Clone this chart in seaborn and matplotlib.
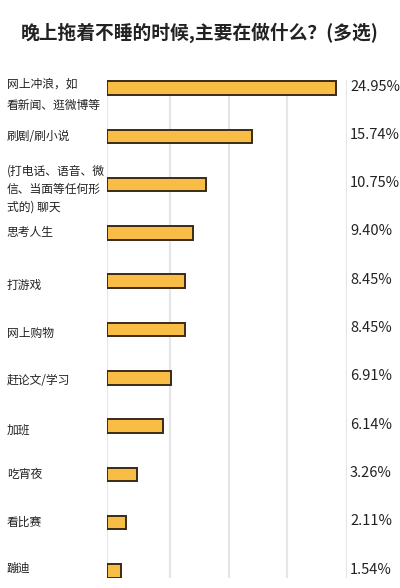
import matplotlib
matplotlib.use("Agg")
import matplotlib.pyplot as plt
import matplotlib.transforms as mtransforms
import seaborn as sns
import pandas as pd

activities = [
    "网上冲浪，如\n看新闻、逛微博等",
    "刷剧/刷小说",
    "(打电话、语音、微\n信、当面等任何形\n式的) 聊天",
    "思考人生",
    "打游戏",
    "网上购物",
    "赶论文/学习",
    "加班",
    "吃宵夜",
    "看比赛",
    "蹦迪",
]
shares = [24.95, 15.74, 10.75, 9.40, 8.45, 8.45, 6.91, 6.14, 3.26, 2.11, 1.54]
share_labels = ["24.95%", "15.74%", "10.75%", "9.40%", "8.45%", "8.45%",
                "6.91%", "6.14%", "3.26%", "2.11%", "1.54%"]
grid_ticks = [0, 6.85, 13.3, 19.6, 26.1]

df = pd.DataFrame({"activity": activities, "share": shares})

sns.set_style("white")
plt.rcParams["font.family"] = ["Noto Sans CJK SC", "DejaVu Sans"]

fig = plt.figure(figsize=(4.0, 5.88), dpi=100)
ax = fig.add_axes([0.2675, 0.017, 0.6, 0.847])

sns.barplot(data=df, x="share", y="activity", orient="h", color="#f7bd45",
            edgecolor="#3b2a18", linewidth=1.4, width=0.28, saturation=1, ax=ax)

ax.set_xlim(0, grid_ticks[-1])
ax.set_ylim(10.145, -0.166)
ax.set_xticks(grid_ticks)
ax.xaxis.grid(True, color="#e6e6e8", linewidth=1.6)
ax.set_axisbelow(True)
ax.tick_params(axis="x", length=0, labelbottom=False)
ax.tick_params(axis="y", length=0, labelleft=False)
ax.set_xlabel("")
ax.set_ylabel("")
for s in ax.spines.values():
    s.set_visible(False)

# labels on the left, value text on the right
trans = mtransforms.blended_transform_factory(fig.transFigure, ax.transData)
offsets = [0, 0, 0.1, 0, 0.08, 0.08, 0.06, 0.08, 0, 0, -0.06]
for i, (name, lab) in enumerate(zip(activities, share_labels)):
    if i == 0:
        ax.text(0.017, i - 0.22, name, transform=trans, ha="left", va="top",
                fontsize=8.5, color="#222222", linespacing=1.85)
    else:
        ax.text(0.017, i + offsets[i], name, transform=trans, ha="left",
                va="center", fontsize=8.5, color="#222222", linespacing=1.5)
    ax.text(0.875, i - 0.03, lab, transform=trans, ha="left", va="center",
            fontsize=10.5, color="#222222")

fig.text(0.5, 0.944, "晚上拖着不睡的时候,主要在做什么？(多选)", ha="center",
         va="center", fontsize=13.5, fontweight="bold", color="#222222")

fig.savefig("out.png", dpi=100)
